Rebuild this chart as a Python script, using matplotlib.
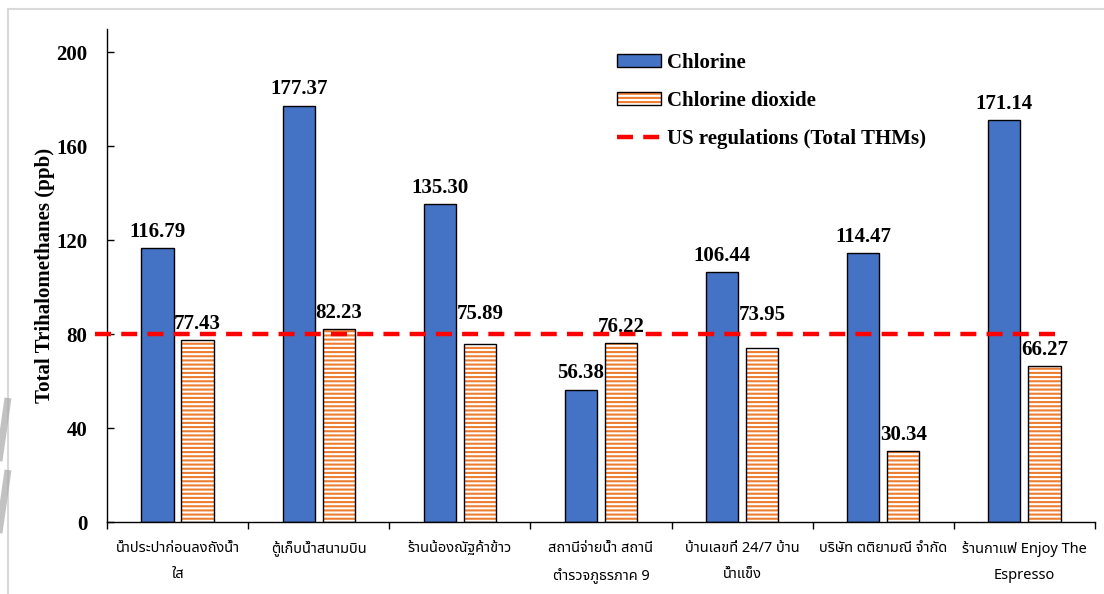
import matplotlib
matplotlib.use("Agg")
import matplotlib.pyplot as plt
from matplotlib import font_manager
from matplotlib.patches import Rectangle
from matplotlib.lines import Line2D
import numpy as np

# Data
sites = ["น้ำประปาก่อนลงถังน้ำ\nใส", "ตู้เก็บน้ำสนามบิน", "ร้านน้องณัฐค้าข้าว",
         "สถานีจ่ายน้ำ สถานี\nตำรวจภูธรภาค 9", "บ้านเลขที่ 24/7 บ้าน\nน้ำแข็ง",
         "บริษัท ตติยามณี จำกัด", "ร้านกาแฟ Enjoy The\nEspresso"]
chlorine = [116.79, 177.37, 135.30, 56.38, 106.44, 114.47, 171.14]
chlorine_dioxide = [77.43, 82.23, 75.89, 76.22, 73.95, 30.34, 66.27]
us_limit = 80
yticks = [0, 40, 80, 120, 160, 200]

BLUE = "#4472C4"
ORANGE = "#ED7D31"

# pick a Thai font that is installed
thai_font = "DejaVu Sans"
for name in ["Noto Sans Thai", "Noto Sans Thai UI", "Sarabun", "IBM Plex Sans Thai Looped"]:
    try:
        font_manager.findfont(name, fallback_to_default=False)
        thai_font = name
        break
    except Exception:
        pass

plt.rcParams["font.family"] = ["Liberation Serif", "DejaVu Serif"]
plt.rcParams["hatch.color"] = ORANGE
plt.rcParams["hatch.linewidth"] = 1.5

fig = plt.figure(figsize=(11.04, 5.94), dpi=100)
ax = fig.add_axes([0.0969, 0.1212, 0.8949, 0.8300])

# light grey page frame + bits of the page decoration on the left
fig.patches.append(Rectangle((8 / 1104, -0.1), 1.2, 1.1 - 9 / 594,
                             transform=fig.transFigure, fill=False,
                             edgecolor="#d9d9d9", linewidth=1.5))
for (x0, y0), (x1, y1) in [((8, 398), (-2, 468)), ((8, 470), (-2, 540))]:
    fig.lines.append(Line2D([x0 / 1104, x1 / 1104], [1 - y0 / 594, 1 - y1 / 594],
                            transform=fig.transFigure, color="#a8a8a8",
                            lw=5, alpha=0.7, solid_capstyle="butt"))

x = np.arange(len(sites))
off = 0.142
w = 0.228

b1 = ax.bar(x - off, chlorine, w, color=BLUE, edgecolor="black", linewidth=1.0,
            zorder=2)
h2 = ax.bar(x + off, chlorine_dioxide, w, facecolor="white", hatch="----",
            linewidth=0, zorder=2)
e2 = ax.bar(x + off, chlorine_dioxide, w, fill=False, edgecolor="black",
            linewidth=1.0, zorder=2.1)

# a couple of labels were lifted clear of the regulation line
lift_dioxide = [0, 0, 10, 0, 12, 0, 0]
for xi, v in zip(x - off, chlorine):
    ax.annotate(f"{v:.2f}", (xi, v), xytext=(0, 4.5), textcoords="offset points",
                ha="center", va="bottom", fontsize=15, fontweight="bold")
for xi, v, lift in zip(x + off, chlorine_dioxide, lift_dioxide):
    ax.annotate(f"{v:.2f}", (xi, v), xytext=(0, 4.5 + lift), textcoords="offset points",
                ha="center", va="bottom", fontsize=15, fontweight="bold")

reg, = ax.plot([-0.585, 6.25], [us_limit, us_limit], color="#FF0000", lw=3.2,
               dashes=(3.6, 2.3), clip_on=False, zorder=3)

ax.set_xlim(-0.5, len(sites) - 0.5)
ax.set_ylim(0, 210)
ax.set_yticks(yticks)
ax.set_yticklabels([str(t) for t in yticks], fontsize=15, fontweight="bold")
ax.tick_params(axis="y", direction="in", length=5, width=1, pad=14)
ax.set_xticks(np.arange(len(sites) + 1) - 0.5)
ax.set_xticklabels([])
ax.set_xticks(x, minor=True)
ax.set_xticklabels(sites, minor=True, fontsize=10.5, family=[thai_font, "Noto Sans"],
                   linespacing=2.0)
ax.tick_params(axis="x", which="major", direction="out", length=5, width=1)
ax.tick_params(axis="x", which="minor", length=0, pad=14)

for s in ["top", "right"]:
    ax.spines[s].set_visible(False)
ax.spines["left"].set_linewidth(1.0)
ax.spines["bottom"].set_linewidth(1.0)

ax.set_ylabel("Total Trihalomethanes (ppb)", fontsize=15, fontweight="bold",
              labelpad=1)

ax.legend([b1, (h2, e2), reg],
          ["Chlorine", "Chlorine dioxide", "US regulations (Total THMs)"],
          loc="upper left", bbox_to_anchor=(0.542, 0.942),
          bbox_transform=fig.transFigure, frameon=False,
          prop={"size": 15, "weight": "bold"}, handlelength=2.1,
          handleheight=0.6, labelspacing=0.85, handletextpad=0.3)

fig.savefig("out.png", dpi=100)
